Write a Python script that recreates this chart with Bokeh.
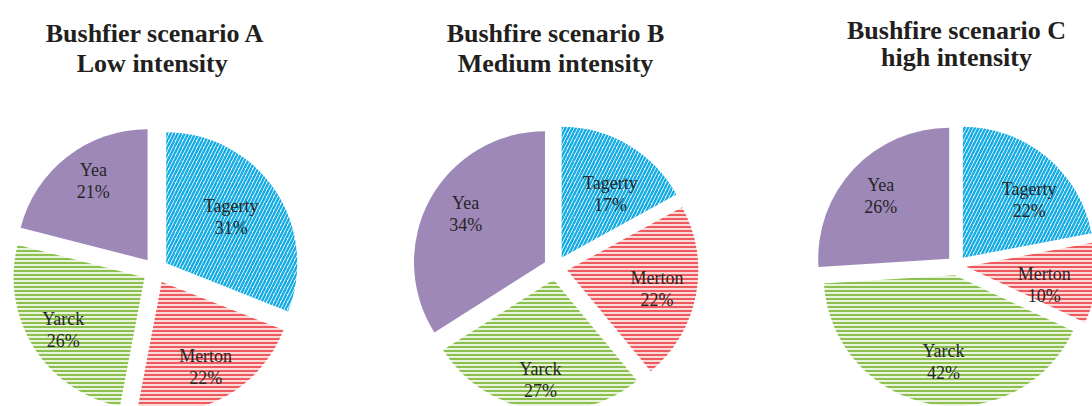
import math
from bokeh.plotting import figure
from bokeh.models import Range1d
from bokeh.core.properties import value
from bokeh.embed import file_html
from bokeh.resources import INLINE

# ---------------- data ----------------
categories = ["Tagerty", "Merton", "Yarck", "Yea"]
title_line1 = ["Bushfier scenario A", "Bushfire scenario B", "Bushfire scenario C"]
title_line2 = ["Low  intensity", "Medium intensity", "high intensity"]
share_a = [31, 22, 26, 21]
share_b = [17, 22, 27, 34]
share_c = [22, 10, 42, 26]
shares = [share_a, share_b, share_c]

# ---------------- layout / style ----------------
W, H = 1092, 406
centers = [(155, 270), (555, 267.5), (956, 265)]   # page pixels
radius = 131
explode = [13, 12, 10]
title_base = [(33, 63), (33, 63), (29.5, 57)]
label_dist = [[0.61, 0.73, 0.74, 0.73], [0.61, 0.70, 0.77, 0.71], [0.67, 0.61, 0.67, 0.71]]
label_turn = [[-1.5, 1.5, -0.6, 3.3], [7.1, 1.0, -1.5, 2.7], [9.5, 6.0, -3.5, -0.6]]

styles = {
    "Tagerty": dict(fill_color="white", hatch_color="#14ACE3", hatch_pattern="/",
                    hatch_scale=7, hatch_weight=2.4),
    "Merton": dict(fill_color="#FBDADA", hatch_color="#EE5A5E", hatch_pattern="-",
                   hatch_scale=4, hatch_weight=2.0),
    "Yarck": dict(fill_color="#EAF4DD", hatch_color="#8CC152", hatch_pattern="-",
                  hatch_scale=4, hatch_weight=2.0),
    "Yea": dict(fill_color="#9E88B8"),
}


def X(px):
    return px


def Y(py):
    return H - py


p = figure(width=W, height=H, x_range=Range1d(0, W), y_range=Range1d(0, H),
           x_axis_type=None, y_axis_type=None, toolbar_location=None,
           output_backend="svg", min_border=0)
p.outline_line_color = None
p.grid.visible = False
p.background_fill_color = "white"
p.border_fill_color = "white"

serif = value("Liberation Serif")

for k, vals in enumerate(shares):
    cx, cy = centers[k]
    total = float(sum(vals))
    cum = 0.0
    for i, (cat, v) in enumerate(zip(categories, vals)):
        t0 = cum / total * 360.0
        t1 = (cum + v) / total * 360.0
        cum += v
        bis = math.radians((t0 + t1) / 2.0)
        ex = cx + explode[k] * math.sin(bis)
        ey = cy - explode[k] * math.cos(bis)
        p.wedge(x=[X(ex)], y=[Y(ey)], radius=radius, radius_units="screen",
                start_angle=math.radians(90 - t0), end_angle=math.radians(90 - t1),
                direction="clock", line_color=None, **styles[cat])
        la = bis + math.radians(label_turn[k][i])
        d = label_dist[k][i] * radius
        lx = ex + d * math.sin(la)
        ly = ey - d * math.cos(la)
        p.text(x=[X(lx), X(lx)], y=[Y(ly - 11), Y(ly + 11)],
               text=[cat, f"{v}%"], text_font=serif, text_font_size="18px",
               text_color="#262626", text_align="center", text_baseline="middle")
    b1, b2 = title_base[k]
    p.text(x=[X(cx), X(cx)], y=[Y(b1), Y(b2)], text=[title_line1[k], title_line2[k]],
           text_font=serif, text_font_style="bold", text_font_size="26px",
           text_color="#231F20", text_align="center", text_baseline="alphabetic")

open("out.html", "w").write(file_html(p, INLINE))
